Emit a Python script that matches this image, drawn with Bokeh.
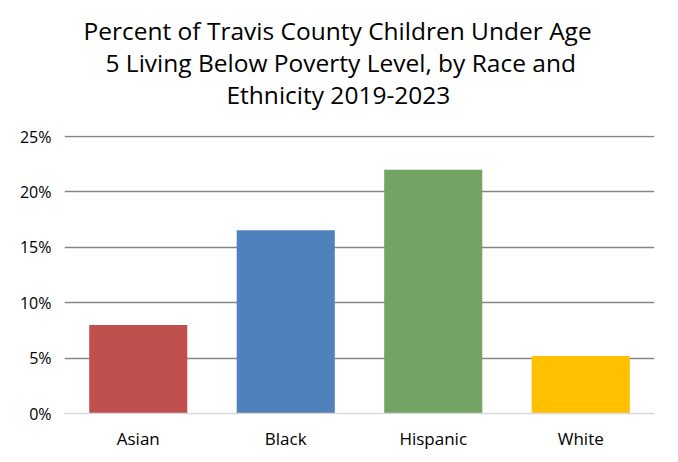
from bokeh.plotting import figure
from bokeh.models import ColumnDataSource, FixedTicker, PrintfTickFormatter, Title
from bokeh.embed import file_html
from bokeh.resources import INLINE

categories = ["Asian", "Black", "Hispanic", "White"]
values = [8.0, 16.55, 22.0, 5.2]
colors = ["#C0504D", "#4F81BD", "#72A463", "#FFC000"]
y_ticks = [0, 5, 10, 15, 20, 25]
title_lines = ["Percent of Travis County Children Under Age",
               "5 Living Below Poverty Level, by Race and",
               "Ethnicity 2019-2023"]
title_offsets = [19, 41, 162]
title_standoffs = [0, -6, 0]

FONT = "Open Sans"

source = ColumnDataSource(dict(cat=categories, val=values, color=colors))

p = figure(x_range=categories, y_range=(0, 25.1), width=676, height=460,
           output_backend="svg", toolbar_location=None, title=None,
           min_border_left=64, min_border_right=22, min_border_top=135,
           min_border_bottom=47)

p.vbar(x="cat", top="val", width=0.665, fill_color="color", line_color=None,
       source=source)

# spacer between title block and plot frame
p.add_layout(Title(text=" ", text_font_size="1px", standoff=22), "above")
for line, off, so in reversed(list(zip(title_lines, title_offsets, title_standoffs))):
    t = Title(text=line, align="left", text_font=FONT, text_font_size="24.5px",
              text_font_style="normal", text_color="#000000", offset=off,
              standoff=so)
    p.add_layout(t, "above")

p.outline_line_color = None
p.background_fill_color = "white"
p.border_fill_color = "white"

p.xgrid.grid_line_color = None
p.ygrid.ticker = FixedTicker(ticks=[5, 10, 15, 20, 25])
p.ygrid.grid_line_color = "#868686"
p.ygrid.grid_line_width = 1.5

p.yaxis.ticker = FixedTicker(ticks=y_ticks)
p.yaxis.formatter = PrintfTickFormatter(format="%d%%")
p.yaxis.axis_line_color = None
p.yaxis.major_tick_line_color = None
p.yaxis.minor_tick_line_color = None
p.yaxis.major_tick_out = 0
p.yaxis.major_label_standoff = 13
p.yaxis.major_label_text_font = FONT
p.yaxis.major_label_text_font_size = "16px"
p.yaxis.major_label_text_color = "#000000"

p.xaxis.axis_line_color = "#D9D9D9"
p.xaxis.axis_line_width = 1.5
p.xaxis.major_tick_line_color = None
p.xaxis.minor_tick_line_color = None
p.xaxis.major_tick_out = 0
p.xaxis.major_label_standoff = 13
p.xaxis.major_label_text_font = FONT
p.xaxis.major_label_text_font_size = "17px"
p.xaxis.major_label_text_color = "#000000"

open("out.html", "w").write(file_html(p, INLINE))
